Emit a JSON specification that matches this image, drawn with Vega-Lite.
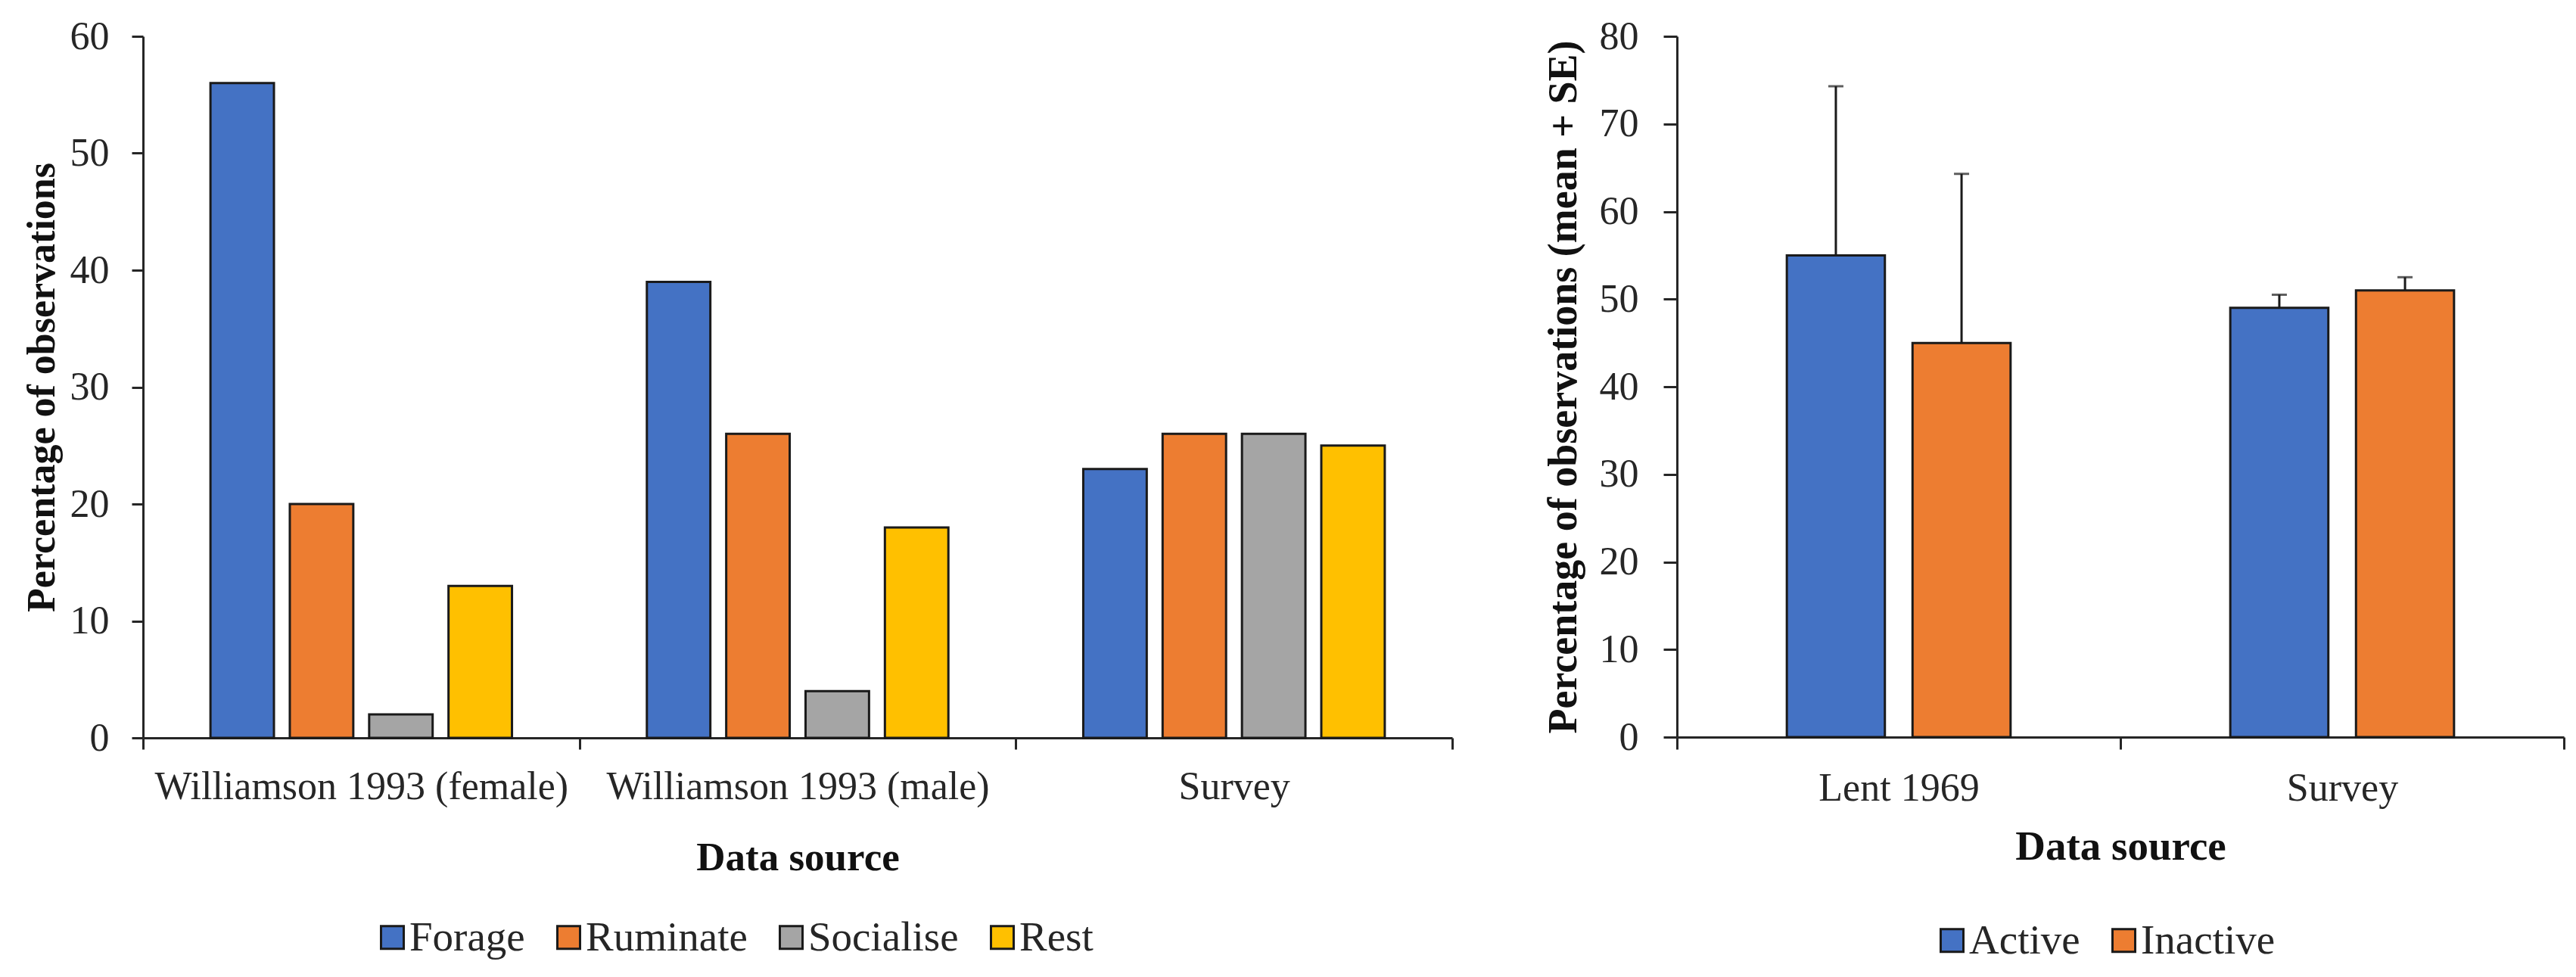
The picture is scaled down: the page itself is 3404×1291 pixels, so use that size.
{
  "$schema": "https://vega.github.io/schema/vega-lite/v6.json",
  "background": "white",
  "padding": {"left": 29, "top": 22, "right": 5, "bottom": 5},
  "config": {
    "font": "Liberation Serif",
    "view": {"stroke": null},
    "axis": {
      "grid": false,
      "domainColor": "#262626",
      "domainWidth": 3,
      "tickColor": "#262626",
      "tickWidth": 3,
      "labelColor": "#262626",
      "labelFont": "Liberation Serif",
      "labelFontSize": 52,
      "labelLimit": 2000,
      "labelOverlap": false,
      "titleColor": "#111111",
      "titleFont": "Liberation Serif",
      "titleFontWeight": "bold",
      "titleLimit": 3000
    },
    "legend": {
      "labelFont": "Liberation Serif",
      "labelFontSize": 55,
      "labelColor": "#262626",
      "labelLimit": 2000,
      "padding": 0
    }
  },
  "spacing": 118,
  "resolve": {"scale": {"color": "independent", "x": "independent", "y": "independent", "xOffset": "independent"}},
  "hconcat": [
    {
      "width": 1730,
      "height": 927,
      "data": {
        "values": [
          {"source": "Williamson 1993 (female)", "behaviour": "Forage", "pct": 56},
          {"source": "Williamson 1993 (female)", "behaviour": "Ruminate", "pct": 20},
          {"source": "Williamson 1993 (female)", "behaviour": "Socialise", "pct": 2},
          {"source": "Williamson 1993 (female)", "behaviour": "Rest", "pct": 13},
          {"source": "Williamson 1993 (male)", "behaviour": "Forage", "pct": 39},
          {"source": "Williamson 1993 (male)", "behaviour": "Ruminate", "pct": 26},
          {"source": "Williamson 1993 (male)", "behaviour": "Socialise", "pct": 4},
          {"source": "Williamson 1993 (male)", "behaviour": "Rest", "pct": 18},
          {"source": "Survey", "behaviour": "Forage", "pct": 23},
          {"source": "Survey", "behaviour": "Ruminate", "pct": 26},
          {"source": "Survey", "behaviour": "Socialise", "pct": 26},
          {"source": "Survey", "behaviour": "Rest", "pct": 25}
        ]
      },
      "mark": {"type": "bar", "stroke": "#1a1a1a", "strokeWidth": 3},
      "encoding": {
        "x": {
          "field": "source",
          "type": "nominal",
          "sort": ["Williamson 1993 (female)", "Williamson 1993 (male)", "Survey"],
          "scale": {"paddingInner": 0, "paddingOuter": 0},
          "axis": {
            "title": "Data source",
            "titleFontSize": 53,
            "titlePadding": 42,
            "labelAngle": 0,
            "labelPadding": 24,
            "tickSize": 15,
            "tickBand": "extent"
          }
        },
        "xOffset": {
          "field": "behaviour",
          "sort": ["Forage", "Ruminate", "Socialise", "Rest"],
          "scale": {"paddingInner": 0.2, "paddingOuter": 0.85}
        },
        "y": {
          "field": "pct",
          "type": "quantitative",
          "scale": {"domain": [0, 60]},
          "axis": {
            "title": "Percentage of observations",
            "titleFontSize": 52,
            "titlePadding": 10,
            "values": [0, 10, 20, 30, 40, 50, 60],
            "tickSize": 15,
            "labelPadding": 30
          }
        },
        "color": {
          "field": "behaviour",
          "type": "nominal",
          "scale": {
            "domain": ["Forage", "Ruminate", "Socialise", "Rest"],
            "range": ["#4472C4", "#ED7D31", "#A5A5A5", "#FFC000"]
          },
          "legend": {
            "title": null,
            "orient": "none",
            "direction": "horizontal",
            "legendX": 302,
            "legendY": 1163,
            "symbolType": "square",
            "symbolSize": 900,
            "symbolStrokeColor": "#1a1a1a",
            "symbolStrokeWidth": 3,
            "symbolOpacity": 1,
            "labelOffset": -5,
            "columnPadding": 30
          }
        }
      }
    },
    {
      "width": 1172,
      "height": 926,
      "data": {
        "values": [
          {"source": "Lent 1969", "state": "Active", "mean": 55, "upper": 74.3},
          {"source": "Lent 1969", "state": "Inactive", "mean": 45, "upper": 64.3},
          {"source": "Survey", "state": "Active", "mean": 49, "upper": 50.5},
          {"source": "Survey", "state": "Inactive", "mean": 51, "upper": 52.5}
        ]
      },
      "encoding": {
        "x": {
          "field": "source",
          "type": "nominal",
          "sort": ["Lent 1969", "Survey"],
          "scale": {"paddingInner": 0, "paddingOuter": 0},
          "axis": {
            "title": "Data source",
            "titleFontSize": 55,
            "titlePadding": 25,
            "labelAngle": 0,
            "labelPadding": 26,
            "tickSize": 16,
            "tickBand": "extent"
          }
        },
        "xOffset": {
          "field": "state",
          "sort": ["Active", "Inactive"],
          "scale": {"paddingInner": 0.22, "paddingOuter": 0.874}
        }
      },
      "layer": [
        {
          "mark": {"type": "bar", "stroke": "#1a1a1a", "strokeWidth": 3},
          "encoding": {
            "y": {
              "field": "mean",
              "type": "quantitative",
              "scale": {"domain": [0, 80]},
              "axis": {
                "title": "Percentage of observations (mean + SE)",
                "titleFontSize": 54,
                "titlePadding": 20,
                "values": [0, 10, 20, 30, 40, 50, 60, 70, 80],
                "tickSize": 18,
                "labelPadding": 33
              }
            },
            "color": {
              "field": "state",
              "type": "nominal",
              "scale": {
                "domain": ["Active", "Inactive"],
                "range": ["#4472C4", "#ED7D31"]
              },
              "legend": {
                "title": null,
                "orient": "none",
                "direction": "horizontal",
                "legendX": 336,
                "legendY": 1167,
                "symbolType": "square",
                "symbolSize": 900,
                "symbolStrokeColor": "#1a1a1a",
                "symbolStrokeWidth": 3,
                "symbolOpacity": 1,
                "labelOffset": -5,
                "columnPadding": 30
              }
            }
          }
        },
        {
          "mark": {"type": "rule", "color": "#1a1a1a", "strokeWidth": 3},
          "encoding": {
            "y": {"field": "mean", "type": "quantitative"},
            "y2": {"field": "upper"}
          }
        },
        {
          "mark": {"type": "tick", "orient": "horizontal", "color": "#1a1a1a", "size": 20, "thickness": 3},
          "encoding": {
            "y": {"field": "upper", "type": "quantitative"}
          }
        }
      ]
    }
  ]
}
